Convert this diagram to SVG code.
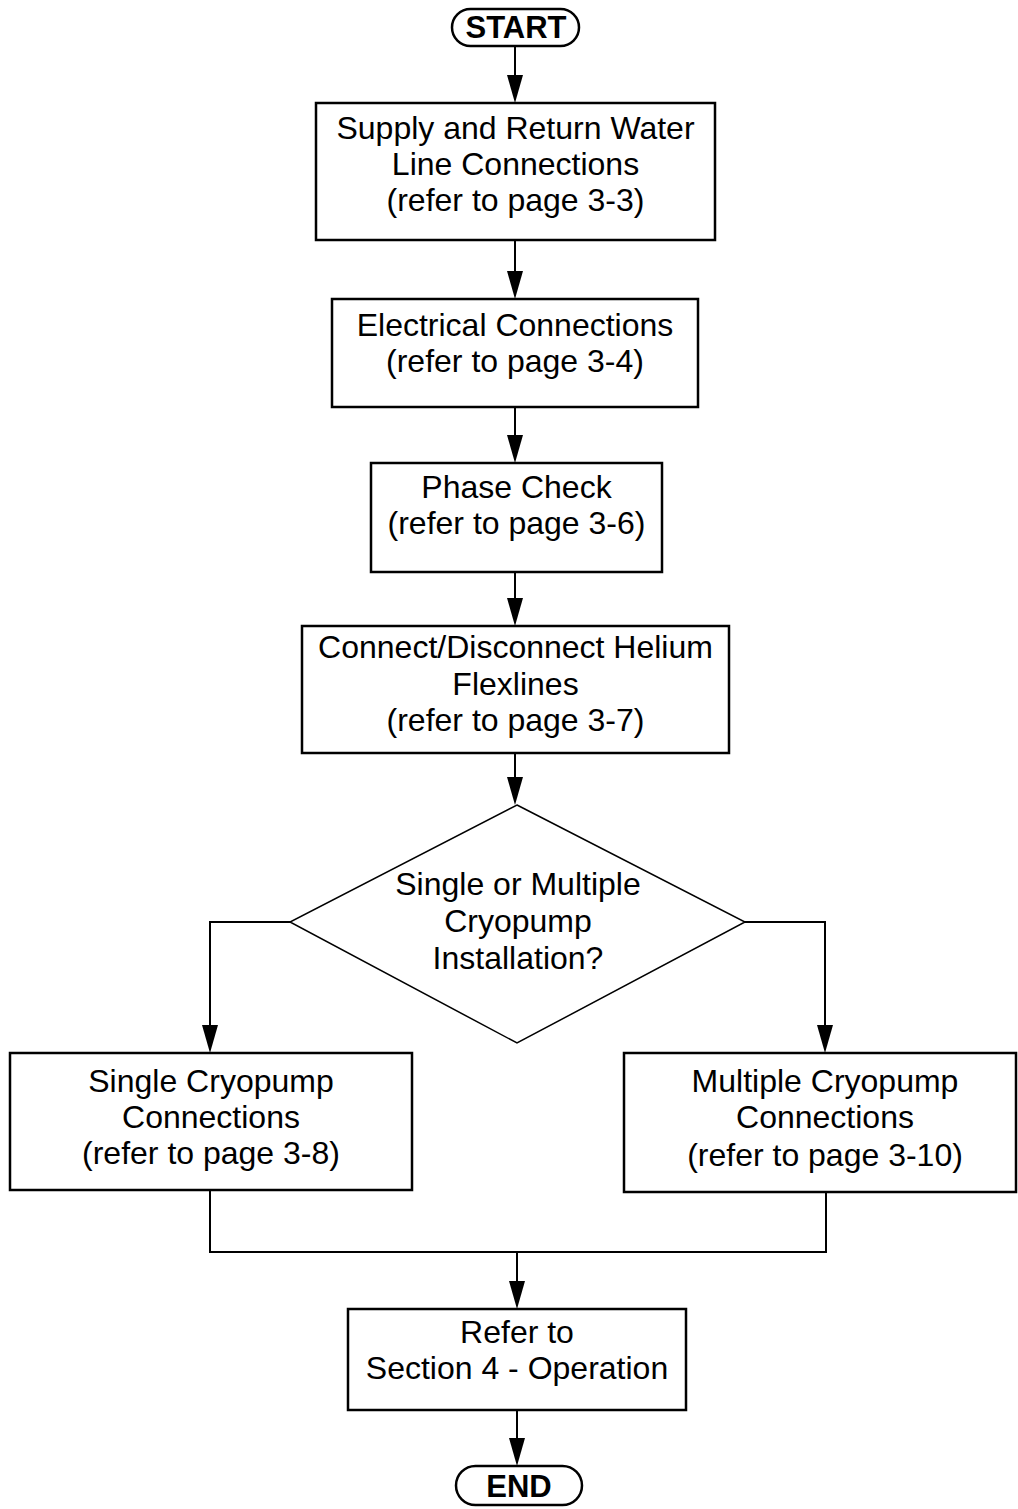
<svg xmlns="http://www.w3.org/2000/svg" width="1018" height="1509" viewBox="0 0 1018 1509">
<style>
.box{fill:#fff;stroke:#000;stroke-width:2.5}
.dia{fill:#fff;stroke:#000;stroke-width:1.5}
.t{font-family:"Liberation Sans",Arial,sans-serif;font-size:32px;text-anchor:middle;fill:#000}
.b{font-weight:bold;font-size:31px}
.c{fill:none;stroke:#000;stroke-width:2}
.h{fill:#000}
</style>
<rect width="1018" height="1509" fill="#fff"/>
<g id="connectors">
<line class="c" x1="515" y1="47" x2="515" y2="75"/><polygon class="h" points="507,75 523,75 515,103"/>
<line class="c" x1="515" y1="240" x2="515" y2="271"/><polygon class="h" points="507,271 523,271 515,299"/>
<line class="c" x1="515" y1="407" x2="515" y2="435"/><polygon class="h" points="507,435 523,435 515,463"/>
<line class="c" x1="515" y1="572" x2="515" y2="598"/><polygon class="h" points="507,598 523,598 515,626"/>
<line class="c" x1="515" y1="753" x2="515" y2="777"/><polygon class="h" points="507,777 523,777 515,805"/>
<polyline class="c" points="290,922 210,922 210,1025"/><polygon class="h" points="202,1025 218,1025 210,1053"/>
<polyline class="c" points="745,922 825,922 825,1025"/><polygon class="h" points="817,1025 833,1025 825,1053"/>
<polyline class="c" points="210,1190 210,1252 826,1252 826,1192"/>
<line class="c" x1="517" y1="1252" x2="517" y2="1281"/><polygon class="h" points="509,1281 525,1281 517,1309"/>
<line class="c" x1="517" y1="1410" x2="517" y2="1438"/><polygon class="h" points="509,1438 525,1438 517,1466"/>
</g>
<g id="start">
<rect class="box" x="452" y="9" width="127" height="37" rx="18.5"/>
<text class="t b" x="516" y="38">START</text>
</g>
<g id="n1">
<rect class="box" x="316" y="103" width="399" height="137"/>
<text class="t" x="515.5" y="139">Supply and Return Water</text>
<text class="t" x="515.5" y="175">Line Connections</text>
<text class="t" x="515.5" y="211">(refer to page 3-3)</text>
</g>
<g id="n2">
<rect class="box" x="332" y="299" width="366" height="108"/>
<text class="t" x="515" y="336">Electrical Connections</text>
<text class="t" x="515" y="372">(refer to page 3-4)</text>
</g>
<g id="n3">
<rect class="box" x="371" y="463" width="291" height="109"/>
<text class="t" x="516.5" y="498">Phase Check</text>
<text class="t" x="516.5" y="534">(refer to page 3-6)</text>
</g>
<g id="n4">
<rect class="box" x="302" y="626" width="427" height="127"/>
<text class="t" x="515.5" y="658">Connect/Disconnect Helium</text>
<text class="t" x="515.5" y="695">Flexlines</text>
<text class="t" x="515.5" y="731">(refer to page 3-7)</text>
</g>
<g id="decision">
<polygon class="dia" points="517,805 745,922 517,1043 290,922"/>
<text class="t" x="518" y="895">Single or Multiple</text>
<text class="t" x="518" y="932">Cryopump</text>
<text class="t" x="518" y="969">Installation?</text>
</g>
<g id="n5">
<rect class="box" x="10" y="1053" width="402" height="137"/>
<text class="t" x="211" y="1092">Single Cryopump</text>
<text class="t" x="211" y="1128">Connections</text>
<text class="t" x="211" y="1164">(refer to page 3-8)</text>
</g>
<g id="n6">
<rect class="box" x="624" y="1053" width="392" height="139"/>
<text class="t" x="825" y="1092">Multiple Cryopump</text>
<text class="t" x="825" y="1128">Connections</text>
<text class="t" x="825" y="1166">(refer to page 3-10)</text>
</g>
<g id="n7">
<rect class="box" x="348" y="1309" width="338" height="101"/>
<text class="t" x="517" y="1343">Refer to</text>
<text class="t" x="517" y="1379">Section 4 - Operation</text>
</g>
<g id="end">
<rect class="box" x="456" y="1466" width="126" height="39" rx="19.5"/>
<text class="t b" x="519" y="1497">END</text>
</g>
</svg>
